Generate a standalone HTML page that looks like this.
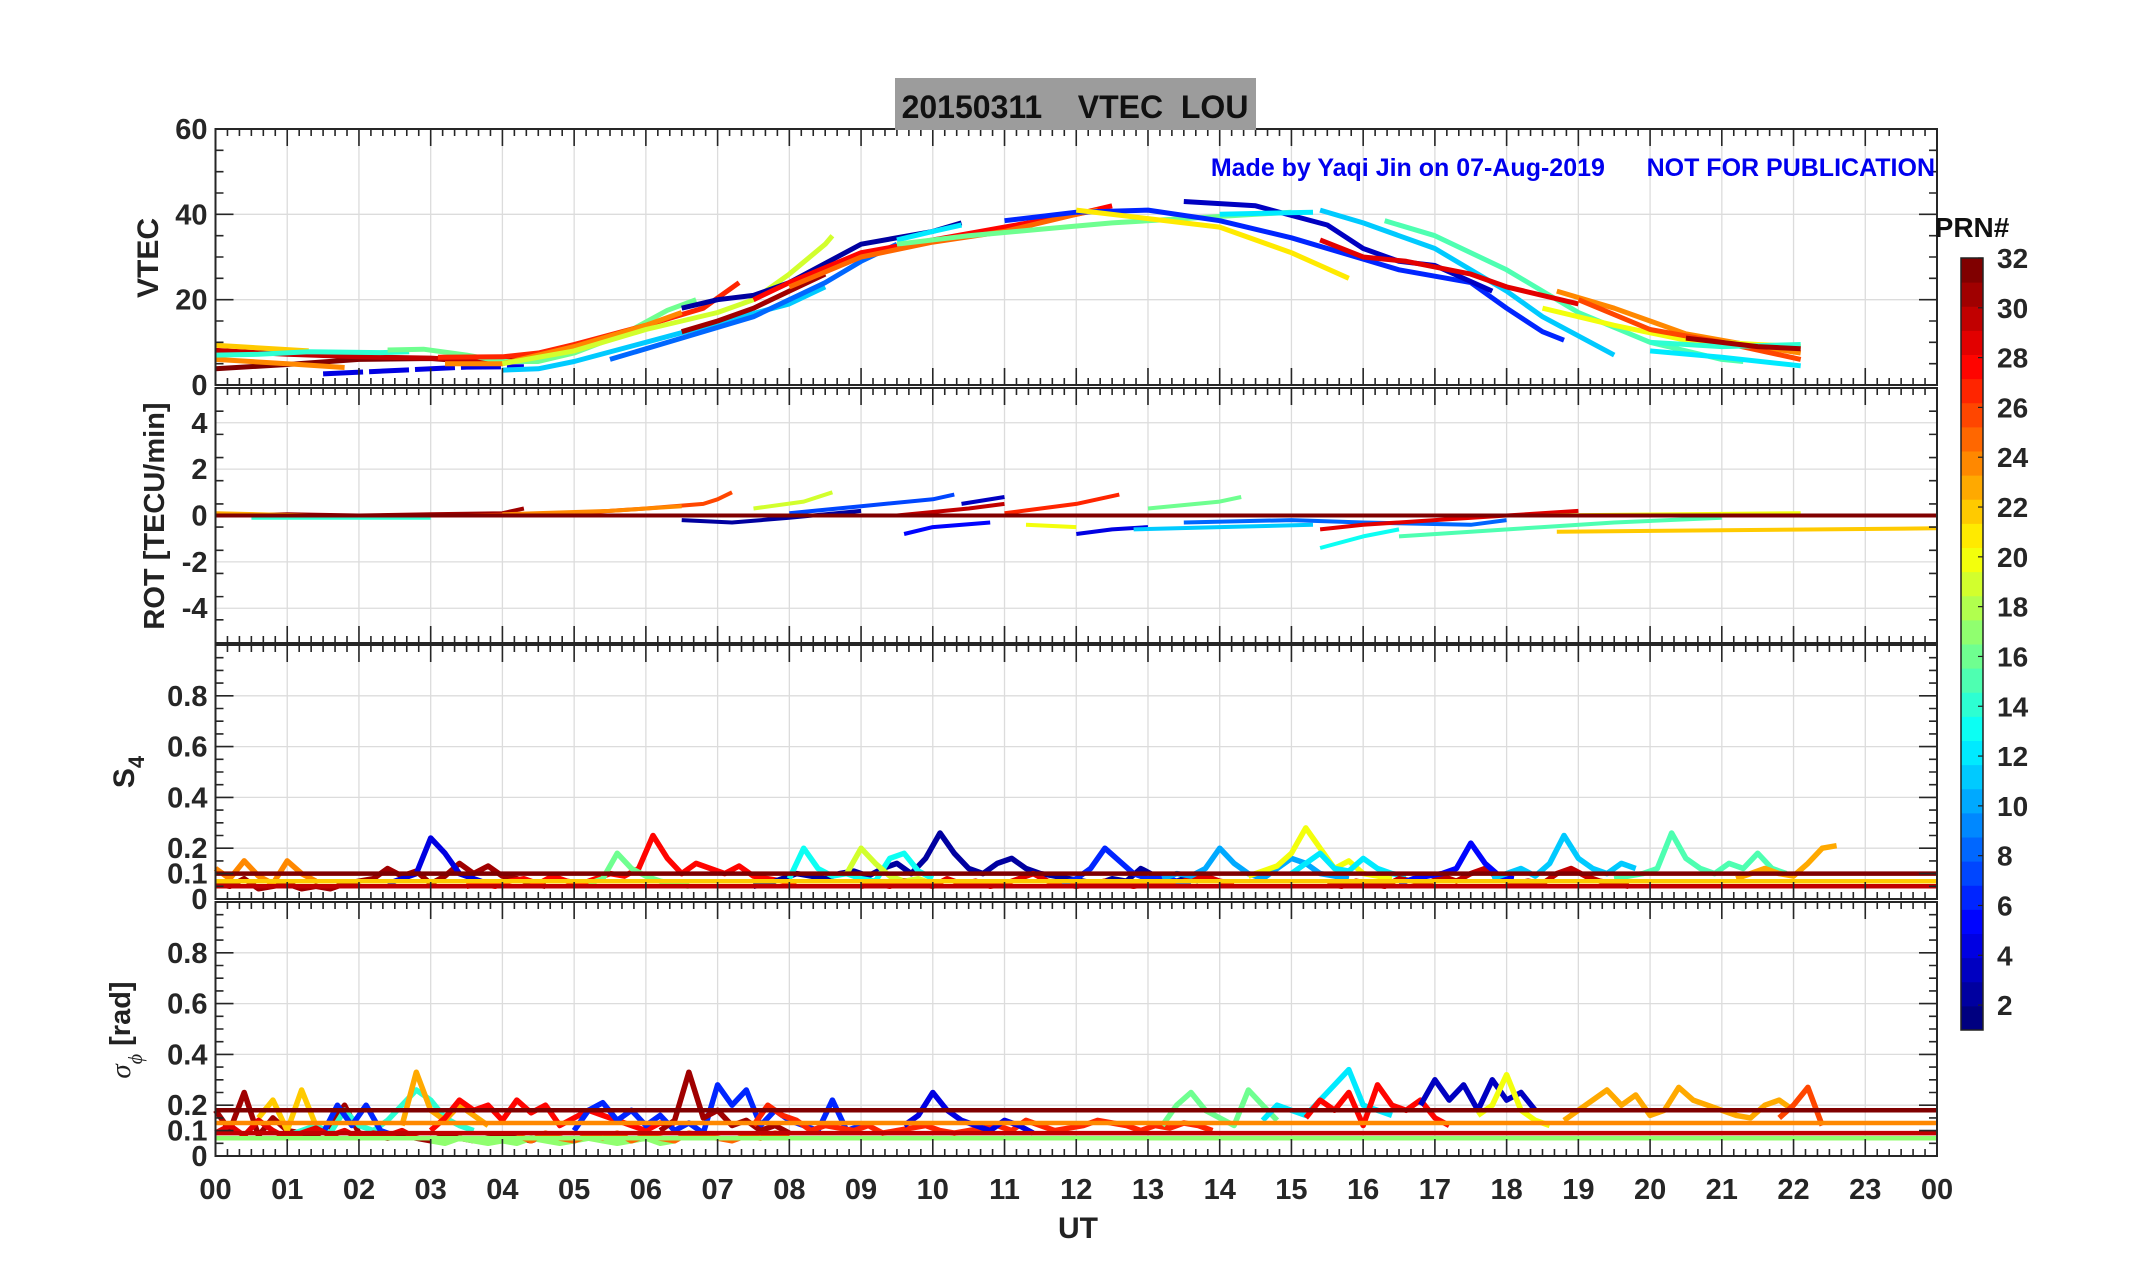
<!DOCTYPE html>
<html><head><meta charset="utf-8"><style>
html,body{margin:0;padding:0;background:#fff;}
svg{display:block;font-family:"Liberation Sans Narrow","Liberation Sans",Arial,sans-serif;font-weight:bold;}
</style></head><body>
<svg id="fig" width="2153" height="1286" viewBox="0 0 2153 1286" xmlns="http://www.w3.org/2000/svg">
<rect x="0" y="0" width="2153" height="1286" fill="#fff"/>
<g id="grid"></g>
<g id="marks"></g>
<g id="axes"></g>
<rect x="895" y="78" width="361" height="52" fill="#9c9c9c"/>
<text x="1075" y="118" text-anchor="middle" font-size="32" font-family="Liberation Sans Narrow,Liberation Sans,sans-serif" fill="#111" xml:space="preserve">20150311    VTEC  LOU</text>
<text x="1935" y="176" text-anchor="end" font-size="25" fill="#0000ee" xml:space="preserve">Made by Yaqi Jin on 07-Aug-2019      NOT FOR PUBLICATION</text>
<text x="1078" y="1238" text-anchor="middle" font-size="30" fill="#222">UT</text>
<text transform="translate(158,258) rotate(-90)" text-anchor="middle" font-size="30" fill="#222">VTEC</text>
<text transform="translate(164,516) rotate(-90)" text-anchor="middle" font-size="29" fill="#222">ROT [TECU/min]</text>
<text transform="translate(134,772) rotate(-90)" text-anchor="middle" font-size="30" fill="#222">S<tspan font-size="22" dy="10">4</tspan></text>
<text transform="translate(130,1030) rotate(-90)" text-anchor="middle" font-size="29" fill="#222"><tspan font-family="Liberation Serif,serif" font-style="italic" font-weight="normal">σ</tspan><tspan font-size="20" dy="12" font-family="Liberation Serif,serif" font-style="italic" font-weight="normal">ϕ</tspan><tspan dy="-12"> [rad]</tspan></text>
<g id="cbar"></g>
<text x="1972" y="237" text-anchor="middle" font-size="28" font-family="Liberation Sans,sans-serif" fill="#111">PRN#</text>
</svg>
<script>
// ---------- data ----------
const hourTicks = ["00","01","02","03","04","05","06","07","08","09","10","11","12","13","14","15","16","17","18","19","20","21","22","23","00"];
const vtecPrn = [32,30,22,24,14,16,4,11,8,27,24,31,19,2,28,25,12,16,6,3,21,12,11,15,29,24,20,26,14,31,12];
const vtecPts = [
 [[0,3.8],[1,4.8],[2,6],[3,6.2],[3.5,5.6],[3.9,5.3],[4.2,6.4]],
 [[0,8.1],[1,7.2],[2,6.6],[3,6.3],[3.8,5.5],[4.1,6]],
 [[0,9.3],[1.3,8]],
 [[0,6],[1,5],[1.8,4.1]],
 [[0,7],[0.6,7.2],[1.3,7.8],[2.3,7.6],[2.7,7.8]],
 [[2.4,8.2],[2.9,8.4],[3.5,7],[4,5.5],[4.5,5.5],[5,7.5],[5.7,12],[6.3,17.5],[6.7,20]],
 [[1.5,2.6],[2.5,3.4],[3.5,4.2],[4.3,4.3]],
 [[4,3.5],[4.5,3.8],[5,5.5],[6,10],[7,14.5],[8,19],[8.5,23]],
 [[5.5,6],[6.5,11],[7.5,16],[8.5,24],[9,29],[9.5,33]],
 [[3.1,6.5],[4,6.6],[4.5,7.5],[5,9.5],[6,14],[6.8,18],[7.3,24]],
 [[3.2,5],[4,5],[5,9],[6,14],[6.5,17]],
 [[6.5,12.5],[7,15],[7.5,18],[8,22],[8.5,26]],
 [[4,5],[5,8],[6,13],[7,17],[7.5,20],[8,26],[8.5,33],[8.6,35]],
 [[6.5,18],[7,20],[7.5,21],[8,24],[9,33],[10,36],[10.4,38]],
 [[7.5,20],[8,24],[9,31],[10,34],[11,37],[12,40],[12.5,42]],
 [[8,23],[9,30],[10,33.5],[11,36],[12,40],[12.3,41]],
 [[9.5,34],[10,36],[10.4,37.5]],
 [[9.5,33],[10.5,35],[11.5,36.5],[12.5,38],[13.5,39],[14.5,40],[15,40.5]],
 [[11,38.5],[12,40.5],[13,41],[14,38.5],[15,34.5],[16,29.5],[16.5,27],[17.5,24],[18,18],[18.5,12.5],[18.8,10.5]],
 [[13.5,43],[14.5,42],[15.5,37.5],[16,32],[16.5,29],[17,28],[17.8,22]],
 [[12,41],[13,39],[14,37],[15,31],[15.8,25]],
 [[14,40],[15.3,40.5]],
 [[15.4,41],[16,38],[17,32],[18,22],[18.5,16],[19.5,7]],
 [[16.3,38.5],[17,35],[18,27],[19,17],[20,10],[21,6],[21.3,5.5]],
 [[15.4,34],[16,30],[16.6,29],[17.5,26],[18,23],[19,19]],
 [[18.7,22],[19.5,18],[20.5,12],[21.5,9],[22.1,7.5]],
 [[18.5,18],[19.5,14],[20.5,10.5],[21.5,9.5],[22.1,9]],
 [[19,20],[20,13],[21,10],[22.1,6]],
 [[20,10],[21,9],[22.1,9.5]],
 [[20.5,11],[21.5,9],[22.1,8.5]],
 [[20,8],[21,6.5],[22.1,4.5]]
];
const rotPrn = [31,23,14,26,24,2,19,7,30,3,27,5,20,4,16,11,8,13,29,15,22,20,32];
const rotPts = [
 [[0,0],[1,0.05],[2,0],[3,0.05],[4,0.1],[4.3,0.3]],
 [[0,0.1],[1.3,0]],
 [[0.5,-0.1],[3,-0.1]],
 [[3.5,0],[5,0.1],[6,0.3],[6.8,0.5],[7,0.7],[7.2,1]],
 [[4,0.05],[5.5,0.2],[6.5,0.4]],
 [[6.5,-0.2],[7.2,-0.3],[8,-0.1],[9,0.2]],
 [[7.5,0.3],[8.2,0.6],[8.6,1]],
 [[8,0.1],[9,0.4],[10,0.7],[10.3,0.9]],
 [[9.5,0],[10.5,0.3],[11,0.5]],
 [[10.4,0.5],[11,0.8]],
 [[11,0.1],[12,0.5],[12.6,0.9]],
 [[9.6,-0.8],[10,-0.5],[10.8,-0.3]],
 [[11.3,-0.4],[12,-0.5]],
 [[12,-0.8],[12.5,-0.6],[13,-0.5]],
 [[13,0.3],[14,0.6],[14.3,0.8]],
 [[12.8,-0.6],[14,-0.5],[15.3,-0.4]],
 [[13.5,-0.3],[15,-0.2],[16,-0.3],[17.5,-0.4],[18,-0.2]],
 [[15.4,-1.4],[16,-0.9],[16.5,-0.6]],
 [[15.4,-0.6],[16,-0.4],[17,-0.2],[18,0],[19,0.2]],
 [[16.5,-0.9],[17.5,-0.7],[18.5,-0.5],[19.5,-0.3],[21,-0.1]],
 [[18.7,-0.7],[24,-0.55]],
 [[18.5,0],[22.1,0.1]],
 [[0,0],[24,0]]
];
const s4Prn = [31,24,4,28,16,2,13,19,29,6,10,20,12,30,5,11,15,23];
const s4Start = [0,0,2.4,3.5,5.2,7.5,8,8.8,9,11.8,13.2,14.4,15,15.5,16.5,17.8,19.5,21.2];
const s4Vals = [
 [6,5,8,4,5,6,4,5,4,6,7,8,12,9,11,6,9,14,10,13,9,8,6,5],
 [12,8,15,9,6,15,10,7],
 [6,8,10,24,18,10,8,6],
 [5,6,5,7,8,6,9,7,6,8,10,9,12,25,16,10,14,12,10,13,9,8,7,6],
 [6,8,18,12,9,7,6,5],
 [5,6,8,10,9,8,10,11,9,12,14,10,16,26,18,12,10,14,16,12,10,9,8,7,6,8,7,12,9,6,8,7],
 [8,20,12,9,10,8,7,16,18,11,8],
 [10,20,14,9,7,8,6],
 [5,6,5,7,6,5,8,6,7,5,6,8,10,7,6,5,6,7,6,5,6,7,6,8,9,7,6],
 [6,8,12,20,15,10,8,9,7,6],
 [8,10,9,12,20,14,10,8,12,16,14,10,9,8],
 [9,11,13,18,28,20,12,15,10,9,8],
 [10,14,18,12,11,16,12,10,9],
 [6,5,7,6,5,8,7,6,9,7,10,12,8,6,7,6,10,12,9,7,6,5],
 [6,8,9,10,12,22,14,9,8],
 [8,10,12,9,14,25,16,12,10,14,12],
 [8,9,10,12,26,16,12,10,14,12,18,12,10],
 [8,10,12,10,9,14,20,21]
];
const s4ConstPrn = [22,30,32];
const s4ConstVal = [0.07,0.05,0.1];
const sigPrn = [31,22,14,23,28,6,6,31,27,4,16,12,28,3,20,23,26,17,25,29];
const sigStart = [0,0.6,1.0,2.6,3.0,1.5,5.0,6.2,7.5,9.6,13.2,14.6,15.2,16.8,17.6,18.8,21.8,3.0,4.2,0];
const sigVals = [
 [18,10,25,8,15,10,9,8,12,20,9,8,7,8,7,6,8,7,6,7,8,7,6,8,7,6,8,7],
 [15,22,10,26,12],
 [8,10,12,9,18,12,10,14,20,26,22,15,12,10],
 [12,33,18,14,20,16,12],
 [10,15,22,18,20,14,22,17,20,12,15,18,16,14,12,10,13,12],
 [9,20,12,20,10,8],
 [10,18,21,14,18,12,16,10,13,9,28,20,26,12,18,14,12,10,22,10,12],
 [10,14,33,15,18,12,14,10,12,9],
 [12,20,16,14,10,12,11,10,12,9,10,11,12,10,9,10,11,12,10,14,12,10,11,12,14,13,12,10,12,11,13,12,10],
 [12,16,25,18,14,12,10,14,12,9],
 [12,20,25,18,15,12,26,20,14],
 [14,20,18,16,22,28,34,20,18,16],
 [15,22,18,25,12,28,20,18,22,15,12],
 [20,30,22,28,18,30,22,25,18],
 [16,20,32,18,14,12],
 [14,18,22,26,20,24,16,18,27,22,20,18,16,15,20,22,18],
 [15,20,27,12],
 [6,5,7,6,5,6,5,7,6,5,6,7,6,5,6,7,5,6],
 [8,6,9,7,6,8,7,9,6,8,7,6,9,8,7,6,8,7,9,8],
 [9,12,8,14,10,7,9,11,8,10,7,9,8,10,7]
];
const sigConstPrn = [17,24,30,32];
const sigConstVal = [0.07,0.13,0.09,0.18];
const cbarTicks = [2,4,6,8,10,12,14,16,18,20,22,24,26,28,30,32];

// ---------- helpers ----------
const NS="http://www.w3.org/2000/svg";
const X0=215.5, X1=1937;
const xs = h => X0 + (X1-X0)*h/24;
const panels = [
 {name:"vtec", top:129, bot:385, min:0, max:60, major:[0,20,40,60], labels:["0","20","40","60"], grid:[20,40], minor:5},
 {name:"rot", top:388, bot:643, min:-5.5, max:5.5, major:[-4,-2,0,2,4], labels:["-4","-2","0","2","4"], grid:[-4,-2,0,2,4], minor:1},
 {name:"s4", top:645, bot:899, min:0, max:1, major:[0,0.1,0.2,0.4,0.6,0.8], labels:["0","0.1","0.2","0.4","0.6","0.8"], grid:[0.2,0.4,0.6,0.8], minor:0.05},
 {name:"sigma", top:902, bot:1156, min:0, max:1, major:[0,0.1,0.2,0.4,0.6,0.8], labels:["0","0.1","0.2","0.4","0.6","0.8"], grid:[0.2,0.4,0.6,0.8], minor:0.05}
];
const ys = (p,v) => p.bot - (p.bot-p.top)*(v-p.min)/(p.max-p.min);
function jet(prn){
 const v=(prn-1)/31;
 const c=t=>Math.round(255*Math.max(0,Math.min(1,t)));
 return `rgb(${c(1.5-Math.abs(4*v-3))},${c(1.5-Math.abs(4*v-2))},${c(1.5-Math.abs(4*v-1))})`;
}
function mk(tag,attrs,parent){const e=document.createElementNS(NS,tag);for(const k in attrs)e.setAttribute(k,attrs[k]);parent.appendChild(e);return e;}
const G=document.getElementById('grid'), M=document.getElementById('marks'), A=document.getElementById('axes'), C=document.getElementById('cbar');

panels.forEach(p=>{
 for(let h=1;h<24;h++){
  const l=mk('line',{x1:xs(h),x2:xs(h),y1:p.top,y2:p.bot,stroke:'#dcdcdc','stroke-width':1.3},G);
  
  
 }
 p.grid.forEach(v=>{
  const l=mk('line',{x1:X0,x2:X1,y1:ys(p,v),y2:ys(p,v),stroke:'#dcdcdc','stroke-width':1.3},G);
  
  
 });
 const r=mk('rect',{x:X0,y:p.top,width:X1-X0,height:p.bot-p.top,fill:'none',stroke:'#262626','stroke-width':2},A);
 
 
 let d='';
 for(let i=0;i<=144;i++){const h=i/6,x=xs(h),L=(i%6==0)?17:7;d+=`M${x},${p.bot}v${-L}M${x},${p.top}v${L}`;}
 const nm=Math.round((p.max-p.min)/p.minor);
 for(let i=0;i<=nm;i++){const v=p.min+i*p.minor;const isMaj=p.major.some(m=>Math.abs(m-v)<1e-6);const L=isMaj?18:8;const y=ys(p,v);d+=`M${X0},${y}h${L}M${X1},${y}h${-L}`;}
 const t=mk('path',{d:d,stroke:'#262626','stroke-width':1.6,fill:'none'},A);
 
 
 p.major.forEach((v,i)=>{
  const tx=mk('text',{x:X0-8,y:ys(p,v)+10,'text-anchor':'end','font-size':29,fill:'#262626'},A);
  tx.textContent=p.labels[i];
  
  
 });
});
hourTicks.forEach((s,i)=>{
 const tx=mk('text',{x:xs(i),y:1199,'text-anchor':'middle','font-size':29,fill:'#262626'},A);
 tx.textContent=s;
 
 
});

function drawPts(p,pts,prn,w,name,dash){
 const d=pts.map((q,i)=>(i?'L':'M')+xs(q[0]).toFixed(1)+','+ys(p,q[1]).toFixed(1)).join('');
 const a={d:d,stroke:jet(prn),'stroke-width':w,fill:'none','stroke-linejoin':'round','stroke-linecap':'butt'};
 if(dash)a['stroke-dasharray']=dash;
 const e=mk('path',a,M);
 
 
}
const pV=panels[0],pR=panels[1],pS=panels[2],pG=panels[3];
vtecPts.forEach((pts,i)=>drawPts(pV,pts,vtecPrn[i],5,'vtec-line-prn'+vtecPrn[i],vtecPrn[i]==4?'40 6':null));
rotPts.forEach((pts,i)=>drawPts(pR,pts,rotPrn[i],4,'rot-line-prn'+rotPrn[i]));
function series(start,vals){return vals.map((v,k)=>[start+0.2*k,v/100]);}
s4Vals.forEach((vals,i)=>drawPts(pS,series(s4Start[i],vals),s4Prn[i],5.5,'s4-line-prn'+s4Prn[i]));
s4ConstVal.forEach((v,i)=>drawPts(pS,[[0,v],[24,v]],s4ConstPrn[i],4.5,'s4-const-prn'+s4ConstPrn[i]));
sigVals.forEach((vals,i)=>drawPts(pG,series(sigStart[i],vals),sigPrn[i],5.5,'sigma-line-prn'+sigPrn[i]));
sigConstVal.forEach((v,i)=>drawPts(pG,[[0,v],[24,v]],sigConstPrn[i],4.5,'sigma-const-prn'+sigConstPrn[i]));

// colorbar
const CB={x:1961,w:22,top:258,bot:1030};
const cy=v=>CB.bot-(CB.bot-CB.top)*(v-1)/31;
for(let k=1;k<=32;k++){
 const h=(CB.bot-CB.top)/32;
 const r=mk('rect',{x:CB.x,y:CB.bot-k*h,width:CB.w,height:h+0.5,fill:jet(k)},C);
 
 
}
const cbB=mk('rect',{x:CB.x,y:CB.top,width:CB.w,height:CB.bot-CB.top,fill:'none',stroke:'#222','stroke-width':1.5},C);


cbarTicks.forEach(v=>{
 const l=mk('line',{x1:CB.x+CB.w-5,x2:CB.x+CB.w,y1:cy(v),y2:cy(v),stroke:'#222','stroke-width':1.2},C);
 
 
 const t=mk('text',{x:1997,y:cy(v)+10,'font-size':28,'font-family':'Liberation Sans,sans-serif',fill:'#262626'},C);
 t.textContent=String(v);
 
 
});
</script>
</body></html>
